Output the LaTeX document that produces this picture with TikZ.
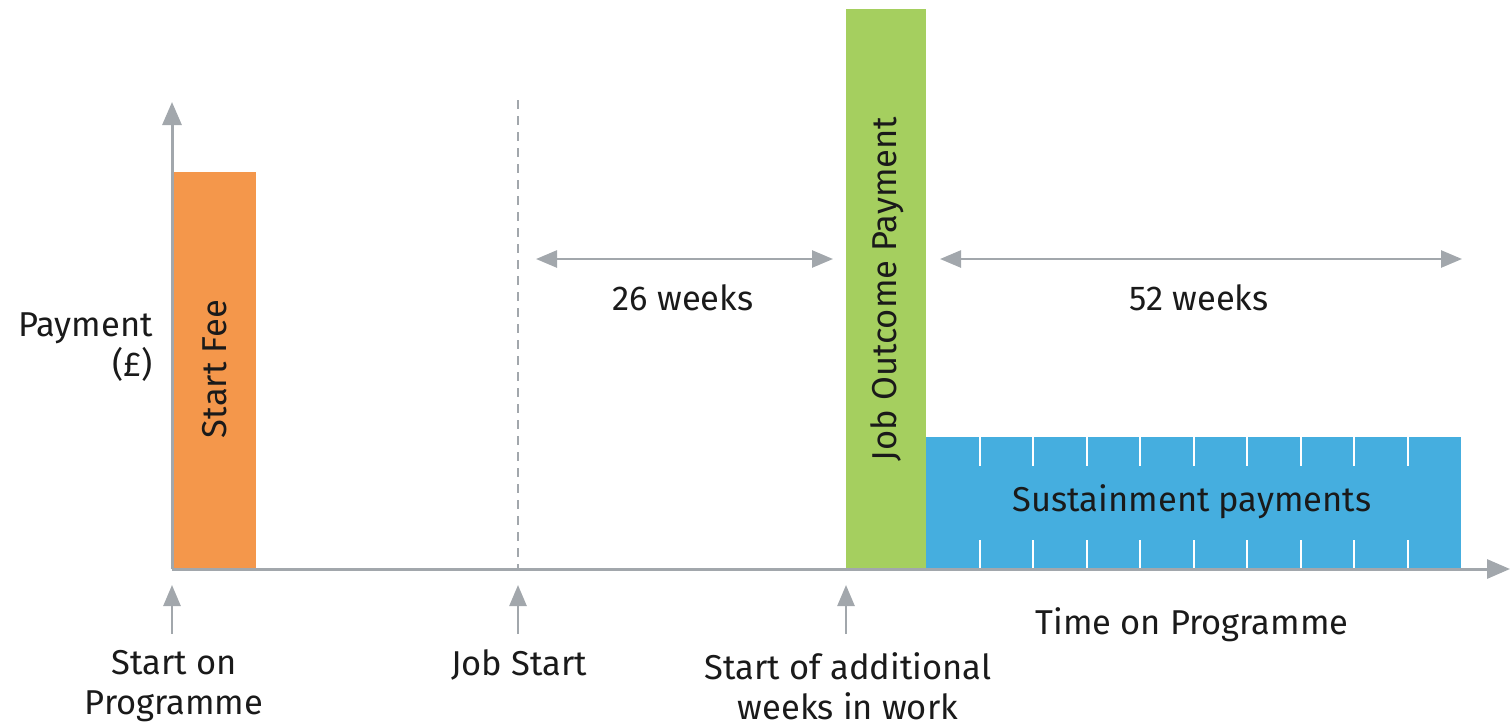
\documentclass[tikz,border=0pt]{standalone}
\usepackage{fontspec}
\setmainfont{Fira Sans}
\usetikzlibrary{arrows.meta,calc}
\definecolor{axisgrey}{HTML}{A2A7AC}
\definecolor{feeorange}{HTML}{F4974B}
\definecolor{outcomegreen}{HTML}{A5CF5F}
\definecolor{sustainblue}{HTML}{45AEDF}
\definecolor{labeltext}{HTML}{1A1A1A}
\begin{document}
\begin{tikzpicture}[x=1pt,y=-1pt,
  every node/.style={text=labeltext, font=\fontsize{34.5}{40}\selectfont},
  bar/.style={draw=none, inner sep=0pt, anchor=south west},
  axisline/.style={draw=axisgrey, line width=3pt},
  axisarrow/.style={axisline, -{Triangle[length=23pt,width=19pt]}},
  spanarrow/.style={axisline, line width=2.6pt, {Triangle[length=21pt,width=17pt]}-{Triangle[length=21pt,width=17pt]}},
  marker/.style={axisline, line width=2.6pt, -{Triangle[length=21pt,width=17pt]}},
  tick/.style={draw=white, line width=2pt},
  label/.style={align=center, inner sep=0pt}]
\useasboundingbox (0,0) rectangle (1511,726);

% bars
\node[bar, fill=feeorange, minimum width=83pt, minimum height=397pt] (fee) at (173,569) {};
\node[bar, fill=outcomegreen, minimum width=80pt, minimum height=560pt] (outcome) at (846,569) {};
\node[bar, fill=sustainblue, minimum width=535pt, minimum height=132pt] (sustain) at (926,569) {};

% white ticks on the sustainment bar
\foreach \k in {1,...,9} {
  \draw[tick] ($(sustain.north west)+(53.5*\k,0)$) -- ++(0,29);
  \draw[tick] ($(sustain.south west)+(53.5*\k,0)$) -- ++(0,-29);
}

% bar labels
\node[label, rotate=90] (feetext) at (215,369) {Start Fee};
\node[label, rotate=90] (outcometext) at (887,289) {Job Outcome Payment};
\node[label] (sustaintext) at (1192,502) {Sustainment payments};

% axes
\coordinate (origin) at (172,569);
\coordinate (ytop) at (172,102);
\coordinate (xend) at (1510,569);
\draw[axisarrow] (origin) -- (ytop);
\draw[axisarrow] (origin) -- (xend);

% job start line
\coordinate (jobtop) at (518,100);
\coordinate (jobfoot) at (518,569);
\draw[axisgrey, line width=2.8pt, dash pattern=on 9pt off 7pt] (jobtop) -- (jobfoot);

% duration spans
\coordinate (s26a) at (536,259);
\coordinate (s26b) at (833,259);
\coordinate (s52a) at (940,259);
\coordinate (s52b) at (1462,259);
\draw[spanarrow] (s26a) -- (s26b);
\draw[spanarrow] (s52a) -- (s52b);
\node[label] (w26) at (683,298) {26 weeks};
\node[label] (w52) at (1199,298) {52 weeks};

% event markers below the time axis
\foreach \n/\x in {m1/172, m2/518, m3/846} {
  \coordinate (\n foot) at (\x,634);
  \coordinate (\n tip) at (\x,585);
  \draw[marker] (\n foot) -- (\n tip);
}
\node[label] (startprog) at (174,686) {Start on\\Programme};
\node[label] (jobstart) at (519,665) {Job Start};
\node[label] (additional) at (848,686) {Start of additional\\weeks in work};
\node[label] (timeaxis) at (1192,625) {Time on Programme};

% vertical axis label
\node[label, align=right, anchor=east] (payment) at (153,347) {Payment\\(£)};
\end{tikzpicture}
\end{document}
